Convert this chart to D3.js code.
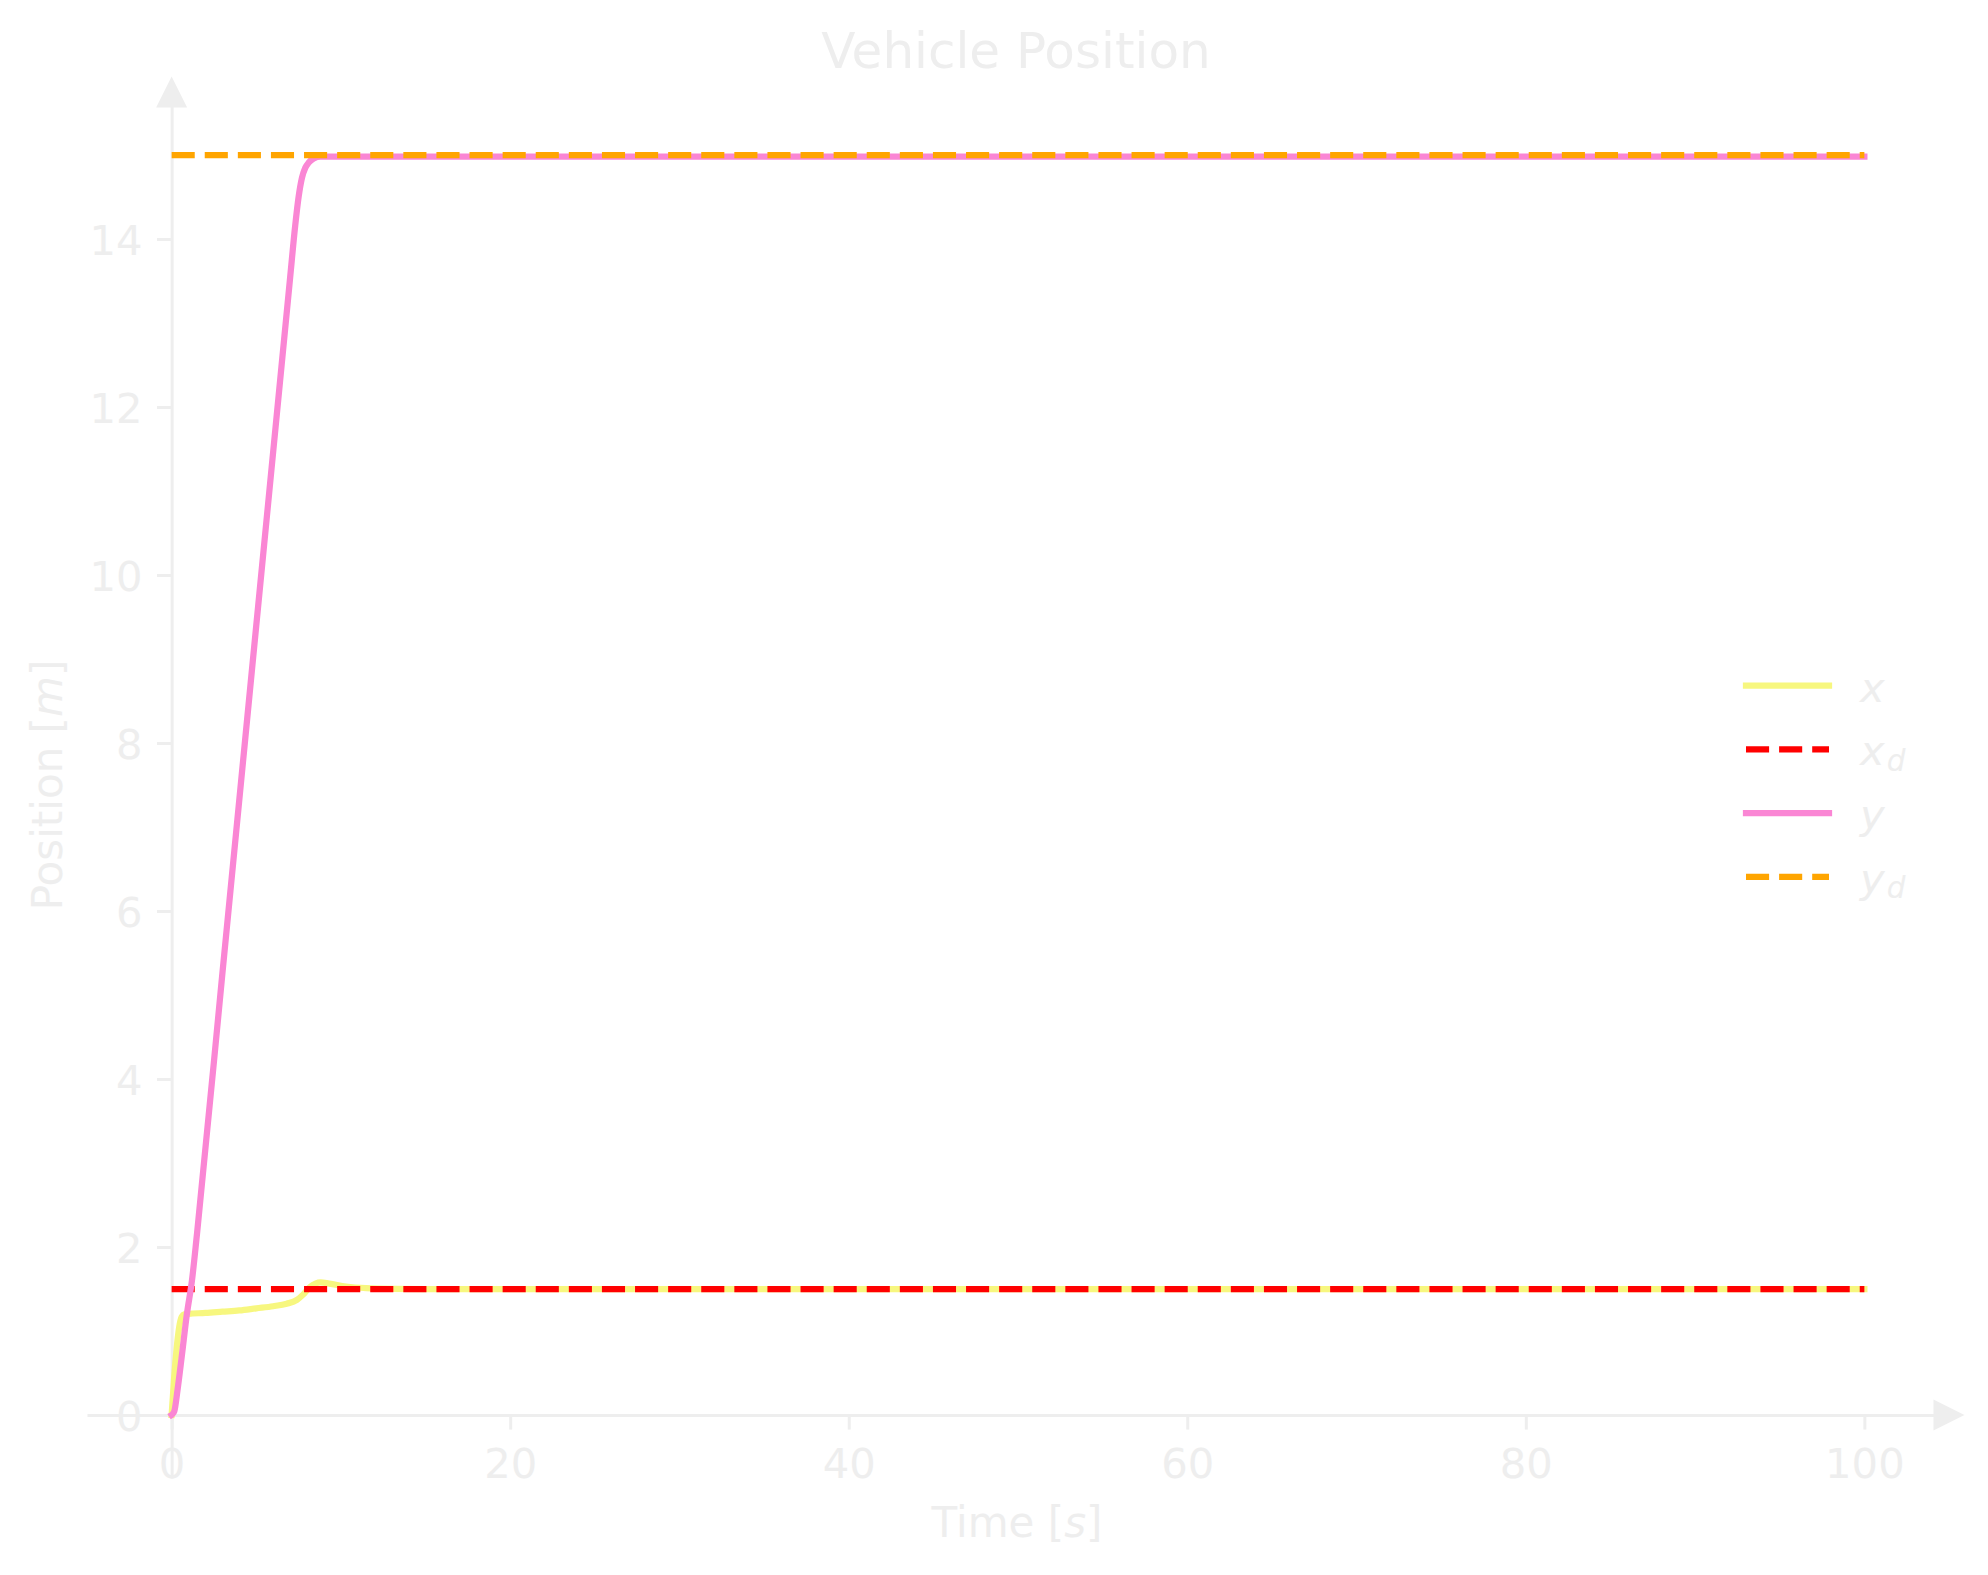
<!DOCTYPE html>
<html>
<head>
<meta charset="utf-8">
<script src="https://cdn.jsdelivr.net/npm/d3@7"></script>
<style>
  html, body { margin: 0; padding: 0; background: #ffffff; }
  svg { display: block; font-family: "DejaVu Sans", sans-serif; }
</style>
</head>
<body>
<svg id="chart" width="1988" height="1575"></svg>
<script>
// ---- data ----
const timeX = [0, 0.15, 0.3, 0.45, 0.6, 0.75, 1.0, 2, 3, 4, 5, 6, 6.8, 7.4, 7.75, 8.15, 8.5, 8.8, 9.3, 10.3, 11.5, 13, 15, 100];
const posX  = [0, 0.45, 0.8, 1.05, 1.17, 1.2, 1.205, 1.215, 1.23, 1.245, 1.27, 1.295, 1.325, 1.37, 1.43, 1.52, 1.565, 1.578, 1.565, 1.53, 1.51, 1.502, 1.5, 1.5];
const timeY = [0, 0.15, 0.35, 0.6, 0.9, 1.2, 1.5, 3, 5, 7, 7.3, 7.5, 7.7, 7.9, 8.1, 8.4, 8.8, 10, 100];
const posY  = [0, 0.04, 0.3, 0.7, 1.2, 1.6, 2.16, 5.26, 9.40, 13.54, 14.16, 14.5, 14.73, 14.85, 14.91, 14.96, 14.98, 14.98, 14.98];
const timeRef = [0, 100];
const posXd = [1.5, 1.5];
const posYd = [15, 15];
const xTicks = [0, 20, 40, 60, 80, 100];
const yTicks = [0, 2, 4, 6, 8, 10, 12, 14];
const seriesNames = ["x", "x_d", "y", "y_d"];

// ---- layout ----
const svg = d3.select("#chart");
const fg = "#eeeeee";
const lw = 6.25;
const dash = "23.1,10";

const x = d3.scaleLinear().domain([-5, 105]).range([87, 1949]);
const y = d3.scaleLinear().domain([-0.75, 15.75]).range([1478, 92]);

// axes (spines through zero)
const xAxis = d3.axisBottom(x).tickValues(xTicks).tickFormat(d3.format("d"))
  .tickSizeInner(14.6).tickSizeOuter(0).tickPadding(18);
const yAxis = d3.axisLeft(y).tickValues(yTicks).tickFormat(d3.format("d"))
  .tickSizeInner(14.6).tickSizeOuter(0).tickPadding(14.6);

const gx = svg.append("g").attr("transform", `translate(0,${y(0)})`).call(xAxis);
const gy = svg.append("g").attr("transform", `translate(${x(0)},0)`).call(yAxis);
[gx, gy].forEach(g => {
  g.select(".domain").attr("stroke", fg).attr("stroke-width", 3);
  g.selectAll(".tick line").attr("stroke", fg).attr("stroke-width", 3);
  g.selectAll(".tick text").attr("fill", fg).attr("font-size", 41.7)
    .attr("font-family", "DejaVu Sans");
});
gx.selectAll(".tick text").attr("dy", null).attr("y", 63);
gy.selectAll(".tick text").attr("dy", "0.36em");

// arrow heads
const ah = 31;
svg.append("path")
  .attr("d", `M${x(105) + ah/2},${y(0)} L${x(105) - ah/2},${y(0) - ah/2} L${x(105) - ah/2},${y(0) + ah/2} Z`)
  .attr("fill", fg);
svg.append("path")
  .attr("d", `M${x(0)},${y(15.75) - ah/2} L${x(0) - ah/2},${y(15.75) + ah/2} L${x(0) + ah/2},${y(15.75) + ah/2} Z`)
  .attr("fill", fg);

// ---- lines ----
const lineGen = d3.line().x(d => x(d[0])).y(d => y(d[1])).curve(d3.curveMonotoneX);
const zip = (a, b) => a.map((v, i) => [v, b[i]]);

const series = [
  {data: zip(timeX, posX),   color: "#f7f77f", dashed: false},
  {data: zip(timeRef, posXd), color: "#ff0000", dashed: true},
  {data: zip(timeY, posY),   color: "#fa86d4", dashed: false},
  {data: zip(timeRef, posYd), color: "#ffa500", dashed: true}
];
const plot = svg.append("g");
series.forEach(s => {
  plot.append("path")
    .attr("d", lineGen(s.data))
    .attr("fill", "none")
    .attr("stroke", s.color)
    .attr("stroke-width", lw)
    .attr("stroke-linejoin", "round")
    .attr("stroke-linecap", s.dashed ? "butt" : "square")
    .attr("stroke-dasharray", s.dashed ? dash : null);
});

// ---- title & labels ----
svg.append("text").attr("x", 1016).attr("y", 68).attr("text-anchor", "middle")
  .attr("fill", fg).attr("font-size", 50).text("Vehicle Position");

const xl = svg.append("text").attr("x", 1017).attr("y", 1537).attr("text-anchor", "middle")
  .attr("fill", fg).attr("font-size", 42);
xl.append("tspan").text("Time [");
xl.append("tspan").attr("font-style", "italic").text("s");
xl.append("tspan").text("]");

const yl = svg.append("text").attr("transform", "translate(62,785) rotate(-90)")
  .attr("text-anchor", "middle").attr("fill", fg).attr("font-size", 42);
yl.append("tspan").text("Position [");
yl.append("tspan").attr("font-style", "italic").text("m");
yl.append("tspan").text("]");

// ---- legend ----
const legY0 = 685.7, legStep = 63.7;
const leg = svg.append("g");
series.forEach((s, i) => {
  const ry = legY0 + i * legStep;
  leg.append("line")
    .attr("x1", 1746).attr("x2", 1829).attr("y1", ry).attr("y2", ry)
    .attr("stroke", s.color).attr("stroke-width", lw)
    .attr("stroke-linecap", s.dashed ? "butt" : "square")
    .attr("stroke-dasharray", s.dashed ? dash : null);
  const parts = seriesNames[i].split("_");
  const t = leg.append("text").attr("x", 1860).attr("y", ry + 16)
    .attr("fill", fg).attr("font-size", 41.7).attr("font-style", "italic");
  t.append("tspan").text(parts[0]);
  if (parts[1]) {
    t.append("tspan").attr("font-size", 29.5).attr("dy", 5.5).attr("dx", 2).text(parts[1]);
  }
});
</script>
</body>
</html>
